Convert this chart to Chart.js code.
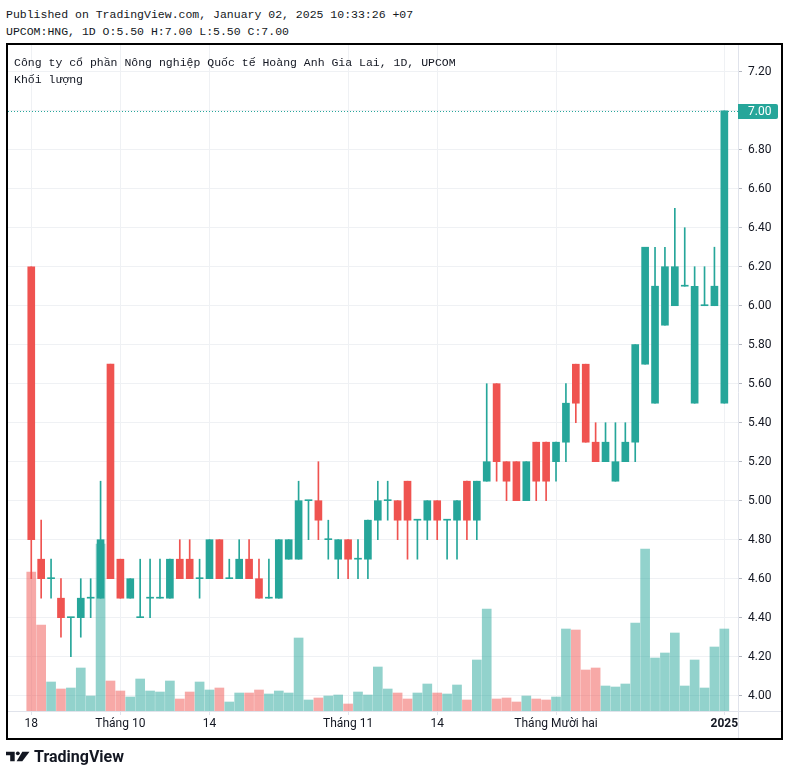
<!DOCTYPE html>
<html lang="vi">
<head>
<meta charset="utf-8">
<title>UPCOM:HNG</title>
<script src="https://cdn.jsdelivr.net/npm/chart.js@4.4.1/dist/chart.umd.min.js"></script>
<style>
  html, body { margin: 0; padding: 0; background: #fff; }
  body { width: 789px; height: 776px; position: relative; overflow: hidden; }
  .mono { font-family: "Liberation Mono", monospace; font-size: 11.5px; color: #131722; white-space: pre; position: absolute; line-height: 16.7px; }
  #header { left: 6px; top: 7px; }
  #legend { left: 14px; top: 55px; z-index: 2; }
  #frame { position: absolute; left: 6px; top: 43px; width: 777px; height: 697px; border: 2px solid #000; box-sizing: border-box; z-index: 3; pointer-events: none; }
  #chart { position: absolute; left: 0; top: 0; }
  #logo { position: absolute; left: 6px; top: 747px; display: flex; align-items: center; gap: 4px; font-family: Roboto, sans-serif; font-weight: bold; font-size: 16px; color: #131722; }
</style>
</head>
<body>
<div id="header" class="mono">Published on TradingView.com, January 02, 2025 10:33:26 +07
UPCOM:HNG, 1D O:5.50 H:7.00 L:5.50 C:7.00</div>
<canvas id="chart" width="789" height="776"></canvas>
<div id="legend" class="mono">Công ty cổ phần Nông nghiệp Quốc tế Hoàng Anh Gia Lai, 1D, UPCOM
Khối lượng</div>
<div id="frame"></div>
<div id="logo">
  <svg width="24" height="11" viewBox="0 0 24 11">
    <path d="M0 0.7H8.7V10.3H4.2V4.3H0Z" fill="#131722"/>
    <circle cx="11.8" cy="2.3" r="1.9" fill="#131722"/>
    <path d="M16.3 0.7H23.5L16.3 10.3H10.6Z" fill="#131722"/>
  </svg>
  <span>TradingView</span>
</div>
<script>
// ─── Datos (18/09/2024 → 02/01/2025, 1D) ────────────
const opens  = [6.2,4.7,4.6,4.5,4.4,4.4,4.5,4.5,5.7,4.7, 4.5,4.4,4.5,4.5,4.5,4.7,4.7,4.6,4.6,4.8,
                4.6,4.6,4.7,4.6,4.5,4.5,4.7,4.7,5.0,5.0, 4.8,4.7,4.8,4.7,4.7,4.9,5.0,5.0,5.1,4.9,
                4.9,5.0,4.9,4.9,5.1,4.9,5.1,5.6,5.2,5.2, 5.0,5.3,5.3,5.2,5.3,5.7,5.7,5.3,5.2,5.1,
                5.2,5.3,5.7,5.5,5.9,6.0,6.1,5.5,6.0,6.0, 5.5];
const highs  = [6.2,4.9,4.7,4.6,4.4,4.6,4.6,5.1,5.7,4.7, 4.6,4.7,4.7,4.7,4.7,4.8,4.8,4.7,4.8,4.8,
                4.7,4.8,4.8,4.7,4.7,4.8,4.8,5.1,5.0,5.2, 4.9,4.8,4.8,4.8,4.9,5.1,5.1,5.0,5.1,4.9,
                5.0,5.0,4.9,5.0,5.1,5.1,5.6,5.6,5.2,5.2, 5.2,5.3,5.3,5.3,5.6,5.7,5.7,5.4,5.4,5.4,
                5.4,5.8,6.3,6.3,6.3,6.5,6.4,6.2,6.2,6.3, 7.0];
const lows   = [4.6,4.5,4.5,4.3,4.2,4.3,4.4,4.5,4.6,4.5, 4.5,4.4,4.4,4.5,4.5,4.6,4.6,4.5,4.6,4.6,
                4.6,4.6,4.6,4.5,4.5,4.5,4.7,4.7,4.8,4.8, 4.7,4.6,4.6,4.6,4.6,4.8,4.9,4.8,4.7,4.7,
                4.8,4.8,4.7,4.7,4.8,4.8,5.1,5.1,5.0,5.0, 5.0,5.0,5.0,5.1,5.2,5.4,5.3,5.2,5.2,5.1,
                5.2,5.2,5.7,5.5,5.9,6.0,6.1,5.5,6.0,6.0, 5.5];
const closes = [4.8,4.6,4.6,4.4,4.4,4.5,4.5,4.8,4.6,4.5, 4.6,4.4,4.5,4.5,4.7,4.6,4.6,4.6,4.8,4.6,
                4.6,4.7,4.6,4.5,4.5,4.8,4.8,5.0,5.0,4.9, 4.8,4.8,4.7,4.7,4.9,5.0,5.0,4.9,4.9,4.9,
                5.0,4.9,4.9,5.0,4.9,5.1,5.2,5.2,5.1,5.0, 5.2,5.1,5.1,5.3,5.5,5.5,5.3,5.2,5.3,5.2,
                5.3,5.8,6.3,6.1,6.2,6.2,6.1,6.1,6.0,6.1, 7.0];
const volumes = [139,86,29,22,23,43,15,167,30,20, 14,32,20,19,30,12,19,29,21,23,
                 9,18,18,21,17,20,18,73,11,13, 15,16,7,19,16,44,22,18,12,18,
                 27,18,17,26,11,51,102,12,13,9, 15,12,11,14,82,81,41,43,25,24,
                 27,88,162,53,58,78,25,51,23,64, 82];

const timeTicks  = [0, 9, 18, 32, 41, 53, 70];
const timeLabels = ['18', 'Tháng 10', '14', 'Tháng 11', '14', 'Tháng Mười hai', '2025'];
const priceTicks = [4.0, 4.2, 4.4, 4.6, 4.8, 5.0, 5.2, 5.4, 5.6, 5.8, 6.0, 6.2, 6.4, 6.6, 6.8, 7.0, 7.2];

// ─── Colores ─────────────────────────────────────
const colorUp     = '#26a69a';
const colorDown   = '#ef5350';
const colorUpVol  = 'rgba(38, 166, 154, 0.5)';
const colorDnVol  = 'rgba(239, 83, 80, 0.5)';
const colorGrid   = '#eff1f4';
const colorAxis   = '#e0e3eb';
const colorText   = '#131722';

const isUp = closes.map((c, i) => c >= opens[i]);

// ─── Plugin: líneas de eje y precio actual ───────
const overlay = {
  id: 'overlay',
  beforeDatasetsDraw(chart) {
    const { ctx, chartArea: a, scales } = chart;
    const last = closes[closes.length - 1];
    const y = Math.round(scales.y.getPixelForValue(last)) + 0.5;
    ctx.save();
    ctx.strokeStyle = colorUp;
    ctx.lineWidth = 1;
    ctx.setLineDash([1, 2]);
    ctx.beginPath();
    ctx.moveTo(a.left, y);
    ctx.lineTo(a.right, y);
    ctx.stroke();
    ctx.restore();
  },
  afterDraw(chart) {
    const { ctx, chartArea: a, scales } = chart;
    ctx.save();
    ctx.strokeStyle = colorAxis;
    ctx.lineWidth = 1;
    ctx.beginPath();
    ctx.moveTo(a.right + 0.5, a.top);
    ctx.lineTo(a.right + 0.5, 740);
    ctx.moveTo(a.left, a.bottom + 0.5);
    ctx.lineTo(782, a.bottom + 0.5);
    ctx.stroke();

    // etiqueta del último precio
    const last = closes[closes.length - 1];
    const y = Math.round(scales.y.getPixelForValue(last));
    ctx.fillStyle = colorUp;
    ctx.beginPath();
    ctx.roundRect(a.right, y - 7, 40, 15, [0, 2, 2, 0]);
    ctx.fill();
    ctx.fillStyle = '#fff';
    ctx.font = '12px Roboto';
    ctx.textBaseline = 'middle';
    ctx.textAlign = 'left';
    ctx.fillText(last.toFixed(2), a.right + 10, y + 1);
    ctx.restore();
  }
};

// ─── Gráfico ──────────────────────────────────────
const ctx = document.getElementById('chart').getContext('2d');

new Chart(ctx, {
  type: 'bar',
  data: {
    datasets: [
      {
        label: 'Thân nến',
        data: opens.map((o, i) => ({ x: i, y: [o, closes[i]] })),
        backgroundColor: isUp.map(u => u ? colorUp : colorDown),
        barThickness: 7,
        minBarLength: 1,
        grouped: false,
        order: 1
      },
      {
        label: 'Bóng nến',
        data: lows.map((l, i) => ({ x: i, y: [l, highs[i]] })),
        backgroundColor: isUp.map(u => u ? colorUp : colorDown),
        barThickness: 1,
        grouped: false,
        order: 2
      },
      {
        label: 'Khối lượng',
        data: volumes.map((v, i) => ({ x: i, y: v })),
        backgroundColor: isUp.map(u => u ? colorUpVol : colorDnVol),
        barThickness: 9,
        grouped: false,
        yAxisID: 'yv',
        order: 3
      }
    ]
  },
  options: {
    responsive: false,
    animation: false,
    layout: { padding: { left: 8, top: 45, right: 7, bottom: 36 } },
    plugins: { legend: { display: false }, tooltip: { enabled: false } },
    scales: {
      x: {
        type: 'linear',
        min: -2.35,
        max: 71.38,
        offset: false,
        afterFit: s => { s.height = 29; },
        afterBuildTicks: s => { s.ticks = timeTicks.map(v => ({ value: v })); },
        grid: { color: colorGrid, tickColor: colorAxis, tickLength: 4, offset: false },
        border: { display: false },
        ticks: {
          autoSkip: false,
          maxRotation: 0,
          padding: 2,
          color: colorText,
          font: c => ({ family: 'Roboto', size: 12, weight: timeLabels[c.index] === '2025' ? 'bold' : 'normal' }),
          callback: (v, i) => timeLabels[i]
        }
      },
      y: {
        position: 'right',
        min: 3.9215,
        max: 7.337,
        afterFit: s => { s.width = 44; },
        afterBuildTicks: s => { s.ticks = priceTicks.map(v => ({ value: v })); },
        grid: { color: colorGrid, tickColor: '#b2b5be', tickLength: 4 },
        border: { display: false },
        ticks: {
          padding: 6,
          color: colorText,
          font: { family: 'Roboto', size: 12 },
          callback: v => v.toFixed(2)
        }
      },
      yv: {
        display: false,
        min: 0,
        max: 666
      }
    }
  },
  plugins: [overlay]
});
</script>
</body>
</html>
